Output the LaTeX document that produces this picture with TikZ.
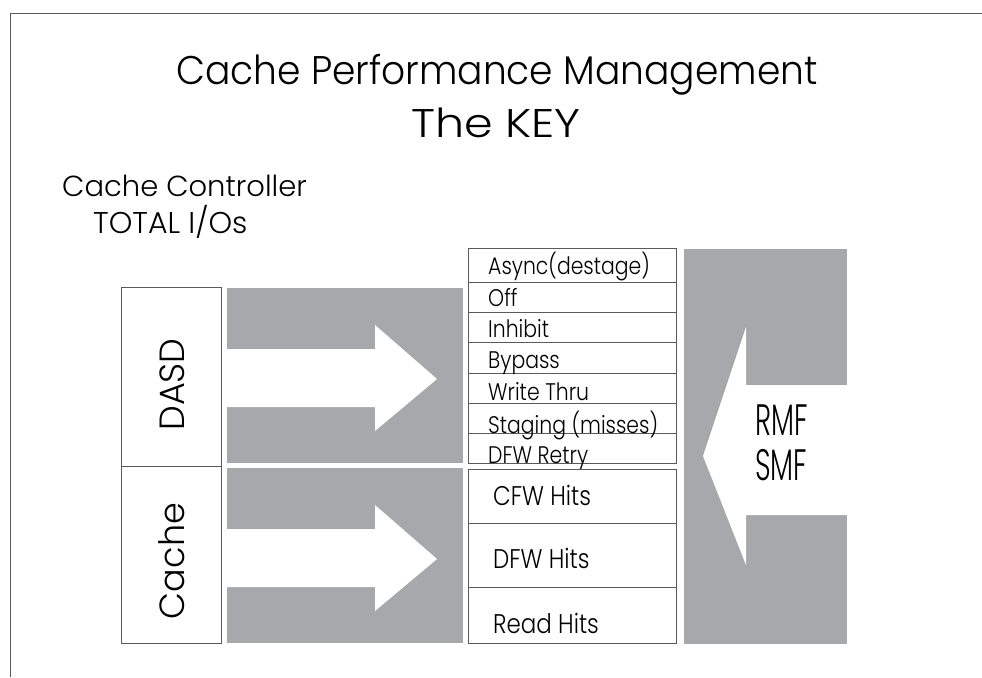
\documentclass[tikz,border=0pt]{standalone}
\usepackage{fontspec}
\setmainfont{Poppins Light}
\newfontfamily\titlefont[FakeStretch=0.94]{Poppins Light}
\newfontfamily\widefont[FakeStretch=1.15]{Poppins Light}
\newfontfamily\condfont[FakeStretch=0.85]{Poppins Light}
\newfontfamily\narrowfont[FakeStretch=0.62]{Poppins Light}
\definecolor{panelgray}{HTML}{A7A8AC}
\definecolor{rulegray}{HTML}{5A5A5A}
\tikzstyle{titletext}=[font=\titlefont\fontsize{40}{46}\selectfont,inner sep=0pt]
\tikzstyle{subtext}=[font=\fontsize{29}{34}\selectfont,inner sep=0pt,anchor=west]
\tikzstyle{sidebox}=[draw=rulegray,line width=1pt,rotate=90,minimum height=100pt]
\tikzstyle{sidelabel}=[font=\fontsize{35}{40}\selectfont,rotate=90,inner sep=0pt]
\tikzstyle{rowtext}=[font=\condfont\fontsize{24}{28}\selectfont,inner sep=0pt,anchor=base west]
\tikzstyle{hittext}=[font=\condfont\fontsize{27}{32}\selectfont,inner sep=0pt,anchor=base west]
\tikzstyle{rmftext}=[font=\narrowfont\fontsize{44}{45}\selectfont,inner sep=0pt,align=left,anchor=west]
\tikzstyle{rowline}=[draw=rulegray,line width=1pt]
\newcommand{\flowarrow}[1]{%
  \fill[white] (227,#1-29) -- (375,#1-29) -- (375,#1-53) -- (437,#1+1)
    -- (375,#1+53) -- (375,#1+29) -- (227,#1+29) -- cycle;}

\begin{document}
\begin{tikzpicture}[x=1pt,y=-1pt]
    \useasboundingbox (0,0) rectangle (982,677);
    \draw[rulegray,line width=1.5pt] (10.5,677) -- (10.5,13.5) -- (982,13.5);

    \node[titletext] (title) at (497,75) {Cache Performance Management};
    \node[titletext,font=\widefont\fontsize{40}{46}\selectfont] (key) at (496,123) {The KEY};
    \node[subtext] (ctrl) at (62,186) {Cache Controller};
    \node[subtext,font=\fontsize{30}{34}\selectfont] (total) at (93,222) {TOTAL I/Os};

    \node[sidebox,minimum width=179pt] (dasd) at (171,376.5) {};
    \node[sidelabel] (dasdtext) at (172,384.5) {DASD};
    \node[sidebox,minimum width=177pt] (cache) at (171,554.5) {};
    \node[sidelabel] (cachetext) at (172,561) {Cache};

    % flow into the controller
    \fill[panelgray] (227,288) rectangle (463,463);
    \flowarrow{378}
    \fill[panelgray] (227,468) rectangle (463,643);
    \flowarrow{558}

    % miss side
    \foreach \a/\b in {248/282,282/312,312/342,342/373,373/403,403/433,433/463}
      \draw[rowline] (468,\a) rectangle (676,\b);
    \node[rowtext] (async) at (488,274) {Async(destage)};
    \node[rowtext] (off) at (488,306) {Off};
    \node[rowtext] (inhibit) at (488,337) {Inhibit};
    \node[rowtext] (bypass) at (488,368) {Bypass};
    \node[rowtext] (thru) at (488,400) {Write Thru};
    \node[rowtext] (staging) at (488,433) {Staging (misses)};
    \node[rowtext] (retry) at (488,463) {DFW Retry};

    % hit side
    \foreach \a/\b in {469/523,523/587,587/643}
      \draw[rowline] (468,\a) rectangle (676,\b);
    \node[hittext] (cfw) at (493,505) {CFW Hits};
    \node[hittext] (dfw) at (493,568) {DFW Hits};
    \node[hittext] (read) at (493,633) {Read Hits};

    % reporting
    \fill[panelgray] (684,249) rectangle (847,644);
    \fill[white] (847,385) -- (746,385) -- (746,327) -- (703,456)
      -- (746,565) -- (746,515) -- (847,515) -- cycle;
    \node[rmftext] (rmf) at (755,443) {RMF\\SMF};
\end{tikzpicture}
\end{document}
